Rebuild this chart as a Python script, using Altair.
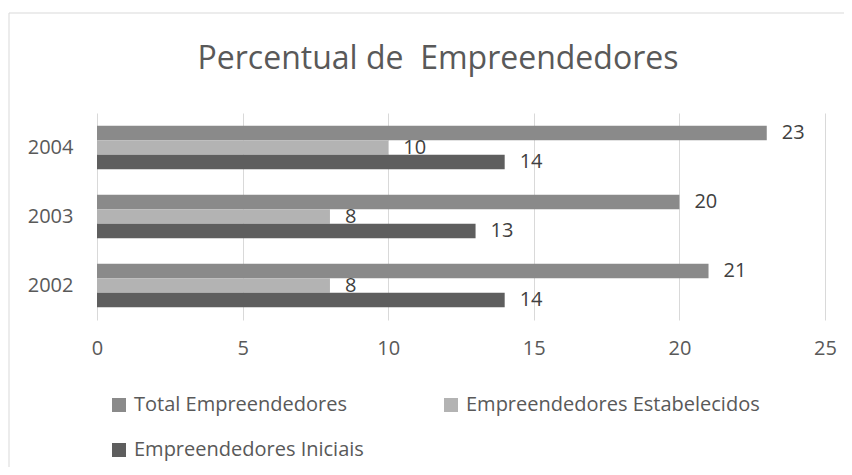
import altair as alt
import pandas as pd

years = ["2002", "2003", "2004"]
series = ["Total Empreendedores", "Empreendedores Estabelecidos", "Empreendedores Iniciais"]
total = [21, 20, 23]
estabelecidos = [8, 8, 10]
iniciais = [14, 13, 14]
colors = ["#8a8a8a", "#b3b3b3", "#5e5e5e"]
x_ticks = [0, 5, 10, 15, 20, 25]
legend_order = [series[0], series[2], series[1]]

rows = []
for s, vals in zip(series, [total, estabelecidos, iniciais]):
    for yr, v in zip(years, vals):
        rows.append({"Ano": yr, "Serie": s, "Valor": v})
df = pd.DataFrame(rows)

FONT = "Open Sans"
TXT = "#595959"

x_enc = alt.X(
    "Valor:Q",
    scale=alt.Scale(domain=[0, 25], nice=False),
    axis=alt.Axis(title=None, values=x_ticks, grid=True, gridColor="#d9d9d9", domain=False,
                  ticks=False, labelFontSize=20, labelColor=TXT, labelFont=FONT, labelPadding=18,
                  labelFlush=False),
)
y_enc = alt.Y(
    "Ano:N",
    sort=years[::-1],
    scale=alt.Scale(paddingInner=0.37, paddingOuter=0.185),
    axis=alt.Axis(title=None, labelFontSize=20, labelColor=TXT, labelFont=FONT, labelPadding=24,
                  ticks=False, domain=False, grid=False),
)
yoff = alt.YOffset("Serie:N", sort=series, scale=alt.Scale(domain=series, paddingInner=0, paddingOuter=0))

base = alt.Chart(df)

bars = base.mark_bar().encode(
    x=x_enc,
    y=y_enc,
    yOffset=yoff,
    color=alt.Color(
        "Serie:N",
        scale=alt.Scale(domain=series, range=colors),
        legend=alt.Legend(orient="none", legendX=12, legendY=282, columns=2, title=None,
                          values=legend_order,
                          symbolType="square", symbolSize=196, symbolStrokeWidth=0,
                          labelFontSize=20, labelColor=TXT, labelFont=FONT, labelOffset=5,
                          columnPadding=77, rowPadding=25, labelLimit=400),
    ),
)

labels = base.mark_text(align="left", baseline="middle", dx=15, fontSize=20, font=FONT, color="#404040").encode(
    x="Valor:Q",
    y=alt.Y("Ano:N", sort=years[::-1]),
    yOffset=alt.YOffset("Serie:N", sort=series),
    text="Valor:Q",
)

frame = alt.Chart(pd.DataFrame({"f": [0]})).mark_rect(
    fillOpacity=0, stroke="#d9d9d9", strokeWidth=1
).encode(x=alt.value(-88), x2=alt.value(800), y=alt.value(-100), y2=alt.value(420))

chart = alt.layer(frame, bars, labels).properties(
    width=728,
    height=207,
    title=alt.TitleParams("Percentual de\u00a0 Empreendedores", fontSize=32, font=FONT, color=TXT,
                          fontWeight="normal", anchor="middle", frame="group", dx=-23, offset=0, dy=63),
    autosize=alt.AutoSizeParams(type="none"),
    padding={"left": 89, "top": 105, "right": 19, "bottom": 147},
).configure_view(stroke=None)

chart.save("out.html", embed_options={"renderer": "svg", "actions": False})
